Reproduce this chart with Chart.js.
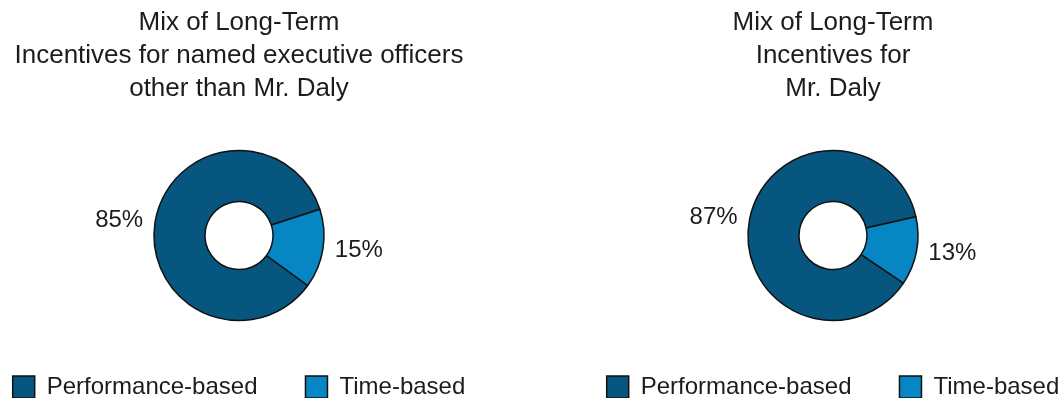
<!DOCTYPE html>
<html>
<head>
<meta charset="utf-8">
<script src="https://cdn.jsdelivr.net/npm/chart.js@4/dist/chart.umd.min.js"></script>
<style>
  html, body { margin: 0; padding: 0; background: #fff; width: 1062px; height: 398px; overflow: hidden; position: relative; }
  .box { position: absolute; top: 0; width: 560px; height: 409px; }
  #left-box { left: -41px; }
  #right-box { left: 553px; }
</style>
</head>
<body>
<div class="box" id="left-box"><canvas id="neo-chart"></canvas></div>
<div class="box" id="right-box"><canvas id="daly-chart"></canvas></div>
<script>
// 数据
const mixLabels = ['Performance-based', 'Time-based'];
const neoValues = [85, 15];
const dalyValues = [87, 13];
const neoTitle = ['Mix of Long-Term', 'Incentives for named executive officers', 'other than Mr. Daly'];
const dalyTitle = ['Mix of Long-Term', 'Incentives for', 'Mr. Daly'];
const sliceColors = ['#06567f', '#0686c2'];

const FONT = '"Liberation Sans", Arial, sans-serif';
const TEXT_COLOR = '#1c1c1c';

// 环外百分比标签
const outerLabels = {
    id: 'outerLabels',
    afterDatasetsDraw(chart, args, opts) {
        const ctx = chart.ctx;
        const meta = chart.getDatasetMeta(0);
        const values = chart.data.datasets[0].data;
        meta.data.forEach((arc, i) => {
            const mid = (arc.startAngle + arc.endAngle) / 2;
            const r = arc.outerRadius + opts.offset;
            const x = arc.x + Math.cos(mid) * r;
            const y = arc.y + Math.sin(mid) * r;
            ctx.save();
            ctx.font = '24px ' + FONT;
            ctx.fillStyle = TEXT_COLOR;
            ctx.textAlign = Math.cos(mid) < 0 ? 'right' : 'left';
            ctx.textBaseline = 'middle';
            ctx.fillText(values[i] + '%', x, y);
            ctx.restore();
        });
    }
};

function makeDonut(canvasId, title, values, rotation) {
    const ctx = document.getElementById(canvasId).getContext('2d');
    return new Chart(ctx, {
        type: 'doughnut',
        data: {
            labels: mixLabels,
            datasets: [{
                data: values,
                backgroundColor: sliceColors,
                borderColor: '#111',
                borderWidth: 1.5,
                radius: 85,
                cutout: '40%'
            }]
        },
        options: {
            responsive: true,
            maintainAspectRatio: false,
            animation: false,
            rotation: rotation,
            plugins: {
                title: {
                    display: true,
                    text: title,
                    color: TEXT_COLOR,
                    font: { family: FONT, size: 26, weight: 'normal', lineHeight: 1.27 },
                    padding: { top: 6, bottom: 39 }
                },
                legend: {
                    position: 'bottom',
                    labels: {
                        boxWidth: 22,
                        boxHeight: 22,
                        padding: 48,
                        color: TEXT_COLOR,
                        font: { family: FONT, size: 24 },
                        generateLabels(chart) {
                            return mixLabels.map((label, i) => ({
                                text: label,
                                fillStyle: sliceColors[i],
                                strokeStyle: '#111',
                                lineWidth: 1.5,
                                fontColor: TEXT_COLOR,
                                index: i
                            }));
                        }
                    }
                },
                tooltip: { enabled: false },
                outerLabels: { offset: 12 }
            }
        },
        plugins: [outerLabels]
    });
}

makeDonut('neo-chart', neoTitle, neoValues, 126);
makeDonut('daly-chart', dalyTitle, dalyValues, 124);
</script>
</body>
</html>
